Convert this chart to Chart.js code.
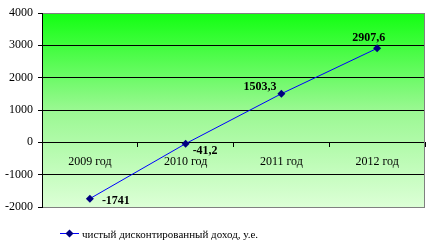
<!DOCTYPE html>
<html>
<head>
<meta charset="utf-8">
<script src="https://cdn.jsdelivr.net/npm/chart.js@4/dist/chart.umd.min.js"></script>
<style>
  html, body { margin: 0; padding: 0; background: #fff; }
  #wrap { width: 429px; height: 249px; }
</style>
</head>
<body>
<div id="wrap"><canvas id="chart" width="429" height="249"></canvas></div>
<script>
// data
const years = ["2009 год", "2010 год", "2011 год", "2012 год"];
const npv = [-1741, -41.2, 1503.3, 2907.6];
const npvText = ["-1741", "-41,2", "1503,3", "2907,6"];
const seriesName = "чистый дисконтированный доход, у.е.";

// where each value label sits relative to its point (left x, baseline y)
const labelOffsets = [[12, 5], [7, 10], [-38, -4], [-25, -7]];

const serif = "'Liberation Serif', 'Times New Roman', serif";

// green gradient behind the plot + grey right border
const plotBg = {
    id: "plotBg",
    beforeDraw(chart) {
        const a = chart.chartArea;
        const ctx = chart.ctx;
        const g = ctx.createLinearGradient(0, a.top, 0, a.bottom);
        g.addColorStop(0, "#12ff12");
        g.addColorStop(0.5, "#9af892");
        g.addColorStop(1, "#dcffd6");
        ctx.save();
        ctx.fillStyle = g;
        ctx.fillRect(a.left, a.top, a.right - a.left, a.bottom - a.top);
        ctx.restore();
    },
    beforeDatasetsDraw(chart) {
        const a = chart.chartArea;
        const ctx = chart.ctx;
        ctx.save();
        ctx.strokeStyle = "#808080";
        ctx.lineWidth = 1;
        ctx.beginPath();
        ctx.moveTo(a.right - 0.5, a.top);
        ctx.lineTo(a.right - 0.5, a.bottom);
        ctx.stroke();
        ctx.restore();
    }
};

// value labels and the legend at the bottom
const labelsAndLegend = {
    id: "labelsAndLegend",
    afterDatasetsDraw(chart) {
        const ctx = chart.ctx;
        const meta = chart.getDatasetMeta(0);
        ctx.save();
        ctx.fillStyle = "#000";
        ctx.font = "bold 12px " + serif;
        ctx.textAlign = "left";
        ctx.textBaseline = "alphabetic";
        meta.data.forEach((pt, i) => {
            const off = labelOffsets[i];
            ctx.fillText(npvText[i], pt.x + off[0], pt.y + off[1]);
        });

        // legend: line + diamond + text
        const ly = 233.5;
        ctx.strokeStyle = "#0000ff";
        ctx.lineWidth = 1;
        ctx.beginPath();
        ctx.moveTo(60, ly);
        ctx.lineTo(79, ly);
        ctx.stroke();
        ctx.fillStyle = "#000080";
        ctx.beginPath();
        ctx.moveTo(69.5, ly - 4);
        ctx.lineTo(73.5, ly);
        ctx.lineTo(69.5, ly + 4);
        ctx.lineTo(65.5, ly);
        ctx.closePath();
        ctx.fill();
        ctx.fillStyle = "#000";
        ctx.font = "11px " + serif;
        ctx.fillText(seriesName, 82, 238);
        ctx.restore();
    }
};

new Chart(document.getElementById("chart"), {
    type: "line",
    data: {
        labels: years,
        datasets: [{
            label: seriesName,
            data: npv,
            borderColor: "#0000ff",
            borderWidth: 1,
            tension: 0,
            pointStyle: "rectRot",
            pointRadius: 4,
            pointHoverRadius: 4,
            pointBackgroundColor: "#000080",
            pointBorderColor: "#000080",
            pointBorderWidth: 0
        }]
    },
    options: {
        responsive: false,
        animation: false,
        events: [],
        layout: { padding: { top: 13, right: 4, bottom: 42, left: 0 } },
        plugins: {
            legend: { display: false },
            tooltip: { enabled: false }
        },
        scales: {
            x: {
                type: "category",
                position: { y: 0 },
                offset: true,
                grid: {
                    offset: true,
                    drawOnChartArea: false,
                    tickLength: 4,
                    tickColor: "#000"
                },
                border: { color: "#000", width: 1 },
                ticks: {
                    color: "#000",
                    padding: 8,
                    maxRotation: 0,
                    font: { family: serif, size: 12 }
                }
            },
            y: {
                min: -2000,
                max: 4000,
                afterFit(scale) { scale.width = 42; },
                grid: {
                    color: (c) => (c.tick && (c.tick.value === 4000 || c.tick.value === -2000)) ? "#808080" : "#000",
                    tickColor: "#000",
                    tickLength: 4
                },
                border: { color: "#000", width: 1 },
                ticks: {
                    stepSize: 1000,
                    padding: 5,
                    color: "#000",
                    font: { family: serif, size: 12 },
                    callback: (v) => String(v)
                }
            }
        }
    },
    plugins: [plotBg, labelsAndLegend]
});
</script>
</body>
</html>
